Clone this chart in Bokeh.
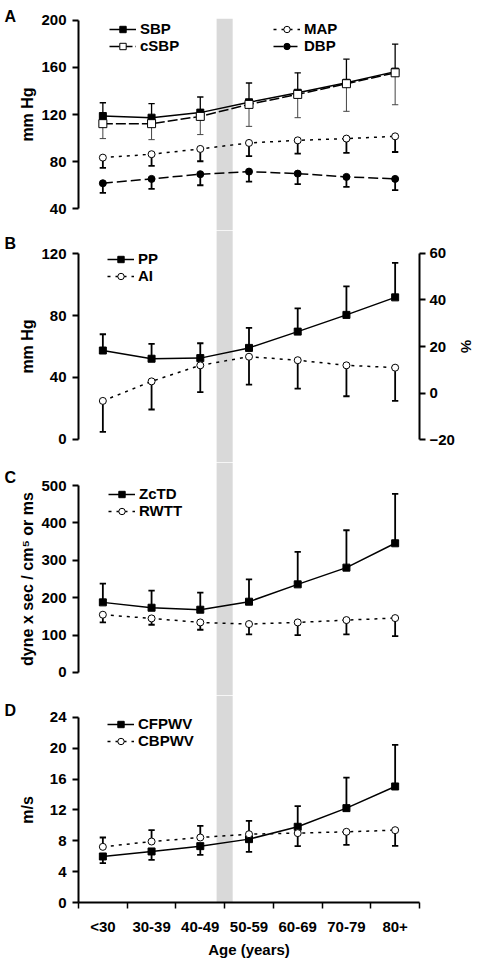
import math
from bokeh.plotting import figure
from bokeh.layouts import column, row
from bokeh.models import Range1d, LinearAxis, FixedTicker, Legend, LegendItem, BoxAnnotation
from bokeh.core.properties import value
from bokeh.embed import file_html
from bokeh.resources import INLINE

# ---------------- data ----------------
ages = ["<30", "30-39", "40-49", "50-59", "60-69", "70-79", "80+"]

sbp = [118.7, 117.3, 121.6, 130.4, 138.5, 147.0, 156.5]
sbp_err = [130.0, 129.2, 134.9, 146.8, 155.5, 167.1, 179.9]
csbp = [112.2, 112.2, 118.4, 128.6, 137.1, 146.2, 155.5]
csbp_err = [99.5, 98.6, 102.9, 109.9, 117.3, 122.7, 128.3]
map_ = [83.3, 86.2, 90.7, 95.8, 98.0, 99.5, 101.4]
map_err = [74.5, 76.2, 80.2, 84.5, 86.7, 87.3, 88.1]
dbp = [61.5, 65.2, 69.2, 71.4, 69.7, 66.9, 65.2]
dbp_err = [53.3, 56.7, 59.8, 62.9, 60.7, 58.4, 55.6]

pp = [57.4, 52.1, 52.5, 59.1, 69.6, 80.4, 91.7]
pp_err = [67.9, 61.7, 62.1, 72.0, 84.6, 98.8, 114.0]
ai = [-3.4, 5.0, 11.9, 15.6, 14.1, 11.9, 10.9]
ai_err = [-16.7, -7.1, 0.4, 3.6, 1.9, -1.4, -3.4]

zctd = [187.5, 173.2, 167.9, 189.3, 235.7, 280.4, 345.5]
zctd_err = [237.5, 218.8, 213.4, 249.1, 322.3, 380.4, 477.7]
rwtt = [154.5, 144.6, 133.9, 129.5, 133.9, 140.2, 145.5]
rwtt_err = [133.9, 127.7, 114.3, 101.8, 100.0, 101.8, 97.3]

cfpwv = [5.97, 6.62, 7.31, 8.22, 9.82, 12.24, 15.05]
cfpwv_err = [5.10, 5.53, 6.18, 6.57, 12.5, 16.2, 20.45]
cbpwv = [7.22, 7.91, 8.43, 8.86, 9.0, 9.17, 9.38]
cbpwv_err = [8.43, 9.38, 9.95, 10.6, 7.31, 7.48, 7.35]

ticks_a = [40, 80, 120, 160, 200]
ticks_b = [0, 40, 80, 120]
ticks_b_right = [-20, 0, 20, 40, 60]
ticks_c = [0, 100, 200, 300, 400, 500]
ticks_d = [0, 4, 8, 12, 16, 20, 24]

panel_letters = ["A", "B", "C", "D"]
ylabels = ["mm Hg", "mm Hg", "dyne x sec / cm\u2075 or ms", "m/s"]

# ---------------- styling / geometry ----------------
FONT = "Liberation Sans"
FS = "15px"
XS = list(range(1, len(ages) + 1))
BAND = (3.335, 3.665)
CAP = 0.065
FRAME_W = 341
SIDE_W = 38          # strip holding panel letters and y-axis titles
LEFT_B = 40
RIGHT_B = 52
TOP_A = 18
BOTTOM_D = 54
FRAME_H = [212, 232, 233, 207]
Y_RANGES = [(21.28, 201.7), (-14.84, 134.84), (-61.5, 561.5), (0, 26.85)]
BOUNDS = [(40, 200), (0, 120), (0, 500), (0, 24)]
LETTER_BASE = [16, 13, 15, 15]   # letter baseline, px below each frame top (A: above)
TOTAL_H = TOP_A + sum(FRAME_H) + BOTTOM_D


def frame_top(i):
    return TOP_A + sum(FRAME_H[:i])


def page_y(i, v):
    y0, y1 = Y_RANGES[i]
    return frame_top(i) + (y1 - v) / (y1 - y0) * FRAME_H[i]


def style_yaxis(ax, bounds, ticks):
    ax.bounds = bounds
    ax.ticker = FixedTicker(ticks=ticks)
    ax.axis_line_width = 2
    ax.axis_line_color = "black"
    ax.major_tick_line_width = 2
    ax.major_tick_line_color = "black"
    ax.major_tick_out = 6
    ax.major_tick_in = 0
    ax.minor_tick_out = 0
    ax.minor_tick_in = 0
    ax.major_label_standoff = 6
    ax.major_label_text_font = FONT
    ax.major_label_text_font_size = FS
    ax.major_label_text_font_style = "bold"
    ax.major_label_text_color = "black"


def make_fig(i, ticks, top=0, bottom=0, xaxis=False):
    p = figure(frame_width=FRAME_W, frame_height=FRAME_H[i],
               x_range=Range1d(0.5, len(ages) + 0.5), y_range=Range1d(*Y_RANGES[i]),
               output_backend="svg", toolbar_location=None,
               x_axis_location="below" if xaxis else None,
               min_border_left=LEFT_B, min_border_right=RIGHT_B,
               min_border_top=top, min_border_bottom=bottom, title=None)
    p.outline_line_color = None
    p.grid.visible = False
    p.background_fill_color = "white"
    p.border_fill_color = "white"
    p.add_layout(BoxAnnotation(left=BAND[0], right=BAND[1], fill_color="#d9d9d9",
                               fill_alpha=1.0, line_color=None, level="underlay"))
    style_yaxis(p.yaxis[0], BOUNDS[i], ticks)
    return p


def draw(p, specs, legend_groups):
    for s in specs:
        kw = {"y_range_name": s.get("yr", "default")}
        p.segment(x0=XS, y0=s["y"], x1=XS, y1=s["err"], line_color=s.get("ec", "black"),
                  line_width=s.get("ew", 1.6), **kw)
        p.segment(x0=[x - CAP for x in XS], y0=s["err"], x1=[x + CAP for x in XS], y1=s["err"],
                  line_color=s.get("ec", "black"), line_width=s.get("ew", 1.6), **kw)
    lines = []
    for s in specs:
        kw = {"y_range_name": s.get("yr", "default")}
        lines.append(p.line(XS, s["y"], line_color="black", line_width=1.5,
                            line_dash=s["dash"], **kw))
    items = []
    for s, lr in zip(specs, lines):
        kw = {"y_range_name": s.get("yr", "default")}
        mr = p.scatter(XS, s["y"], marker=s["marker"], size=s["size"], fill_color=s["fill"],
                       line_color="black", line_width=1, **kw)
        items.append(LegendItem(label=s["name"], renderers=[lr, mr]))
    idx = 0
    for (lx, ly, n) in legend_groups:
        leg = Legend(items=items[idx:idx + n], location=(lx, ly), orientation="vertical",
                     glyph_width=27, glyph_height=16, label_standoff=4, spacing=0,
                     padding=0, margin=0, border_line_color=None, background_fill_alpha=0,
                     label_text_font=FONT, label_text_font_size=FS, label_text_font_style="bold",
                     label_text_color="black")
        p.add_layout(leg)
        idx += n


# ---------------- panel A ----------------
pA = make_fig(0, ticks_a, top=TOP_A)
draw(pA, [
    dict(name="SBP", y=sbp, err=sbp_err, marker="square", size=7, fill="black", dash="solid", ew=1.3),
    dict(name="cSBP", y=csbp, err=csbp_err, marker="square", size=8, fill="white", dash="10 3", ew=1.0, ec="#444444"),
    dict(name="MAP", y=map_, err=map_err, marker="circle", size=7, fill="white", dash="3 5", ew=1.8),
    dict(name="DBP", y=dbp, err=dbp_err, marker="circle", size=7, fill="black", dash="10 4", ew=1.8),
], [(31, 176, 2), (195, 176, 2)])

# ---------------- panel B ----------------
pB = make_fig(1, ticks_b)
pB.extra_y_ranges = {"pct": Range1d(-29.89, 69.89)}
rax = LinearAxis(y_range_name="pct")
style_yaxis(rax, (-20, 60), ticks_b_right)
rax.major_label_standoff = 4
rax.axis_label = "%"
rax.axis_label_text_font = FONT
rax.axis_label_text_font_size = FS
rax.axis_label_text_font_style = "bold"
rax.axis_label_text_color = "black"
rax.axis_label_standoff = 0
pB.add_layout(rax, "right")
draw(pB, [
    dict(name="PP", y=pp, err=pp_err, marker="square", size=7, fill="black", dash="solid", ew=1.8),
    dict(name="AI", y=ai, err=ai_err, marker="circle", size=7, fill="white", dash="3 5", ew=1.8, yr="pct"),
], [(29, 178, 2)])

# ---------------- panel C ----------------
pC = make_fig(2, ticks_c)
draw(pC, [
    dict(name="ZcTD", y=zctd, err=zctd_err, marker="square", size=7, fill="black", dash="solid", ew=1.8),
    dict(name="RWTT", y=rwtt, err=rwtt_err, marker="circle", size=7, fill="white", dash="3 5", ew=1.8),
], [(30, 176, 2)])

# ---------------- panel D ----------------
pD = make_fig(3, ticks_d, bottom=BOTTOM_D, xaxis=True)
xa = pD.xaxis[0]
xa.ticker = FixedTicker(ticks=XS, minor_ticks=[x - 0.5 for x in XS] + [XS[-1] + 0.5])
xa.major_label_overrides = {x: lab for x, lab in zip(XS, ages)}
xa.axis_line_width = 2
xa.axis_line_color = "black"
xa.major_tick_out = 0
xa.major_tick_in = 0
xa.minor_tick_out = 6
xa.minor_tick_in = 0
xa.minor_tick_line_width = 1.5
xa.minor_tick_line_color = "black"
xa.major_label_standoff = 9
xa.major_label_text_font = FONT
xa.major_label_text_font_size = FS
xa.major_label_text_font_style = "bold"
xa.major_label_text_color = "black"
xa.axis_label = "Age (years)"
xa.axis_label_text_font = FONT
xa.axis_label_text_font_size = FS
xa.axis_label_text_font_style = "bold"
xa.axis_label_text_color = "black"
xa.axis_label_standoff = 3
draw(pD, [
    dict(name="CFPWV", y=cfpwv, err=cfpwv_err, marker="square", size=7, fill="black", dash="solid", ew=1.8),
    dict(name="CBPWV", y=cbpwv, err=cbpwv_err, marker="circle", size=7, fill="white", dash="3 5", ew=1.8),
], [(29, 153, 2)])

# ---------------- side strip: panel letters + y-axis titles ----------------
side = figure(frame_width=SIDE_W, frame_height=TOTAL_H,
              x_range=Range1d(0, SIDE_W), y_range=Range1d(TOTAL_H, 0),
              output_backend="svg", toolbar_location=None,
              x_axis_location=None, y_axis_location=None,
              min_border_left=0, min_border_right=0, min_border_top=0, min_border_bottom=0,
              title=None)
side.outline_line_color = None
side.grid.visible = False
side.background_fill_color = "white"
side.border_fill_color = "white"

letter_y = [frame_top(0) - 2] + [frame_top(i) + LETTER_BASE[i] for i in range(1, 4)]
side.text(x=[4] * 4, y=letter_y, text=panel_letters, text_font=value(FONT),
          text_font_size="16px", text_font_style="bold", text_color="black",
          text_align="left", text_baseline="alphabetic")
label_y = [page_y(i, (BOUNDS[i][0] + BOUNDS[i][1]) / 2) for i in range(4)]
side.text(x=[27] * 4, y=label_y, text=ylabels, angle=math.pi / 2, text_font=value(FONT),
          text_font_size="16px", text_font_style="bold", text_color="black",
          text_align="center", text_baseline="middle")

layout = row(side, column(pA, pB, pC, pD, spacing=0), spacing=0)

with open("out.html", "w") as f:
    f.write(file_html(layout, INLINE))
